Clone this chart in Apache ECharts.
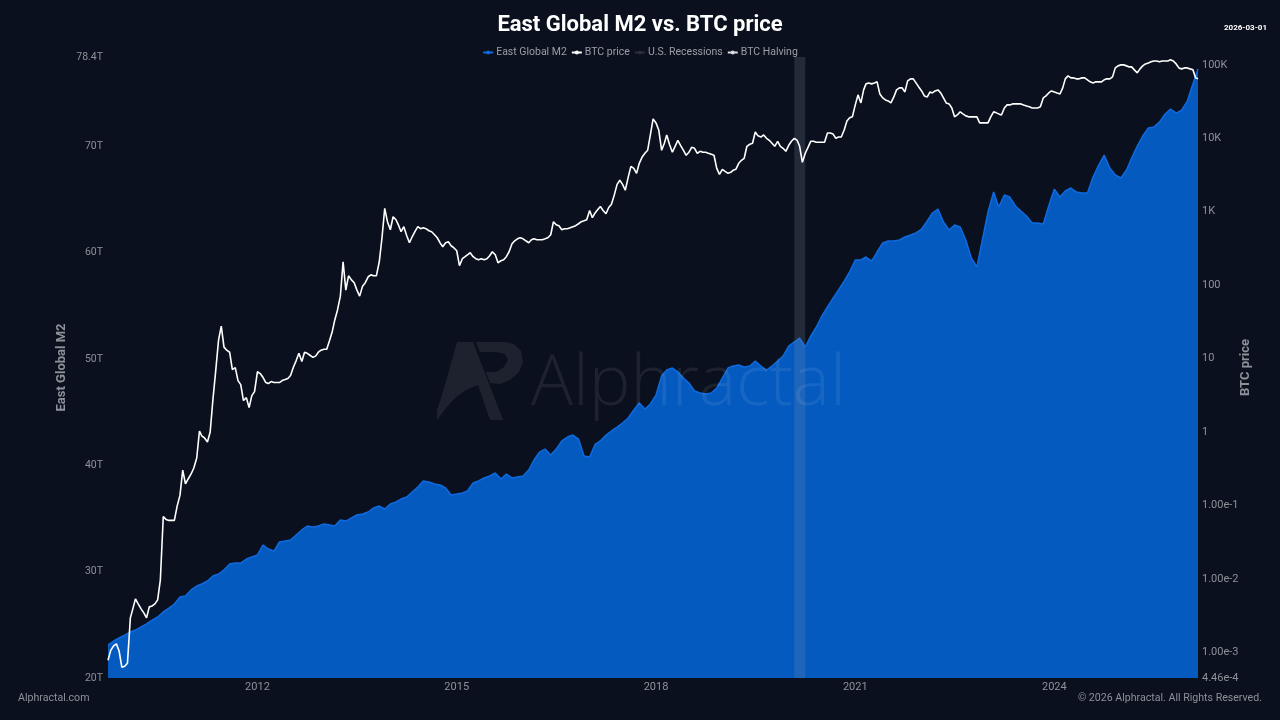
<!DOCTYPE html>
<html>
<head>
<meta charset="utf-8">
<title>East Global M2 vs. BTC price</title>
<script src="https://cdn.jsdelivr.net/npm/echarts@6/dist/echarts.min.js"></script>
<style>
html, body { margin: 0; padding: 0; background: #0a101d; }
#chart { width: 1280px; height: 720px; }
</style>
</head>
<body>
<div id="chart"></div>
<script>
// East Global M2, trillions, first of each month from 2009-10
var m2Values = [
  23.10, 23.48, 23.76,
  24.04, 24.33, 24.51, 24.80, 25.08, 25.45, 25.74, 26.21, 26.58, 26.96, 27.62, 27.71,
  28.28, 28.65, 28.84, 29.12, 29.59, 29.78, 30.16, 30.72, 30.81, 30.81, 31.19, 31.38,
  31.57, 32.51, 32.13, 31.94, 32.79, 32.88, 32.98, 33.45, 33.92, 34.29, 34.20, 34.29,
  34.48, 34.39, 34.29, 34.86, 34.76, 35.05, 35.33, 35.42, 35.61, 35.99, 36.17, 35.89,
  36.36, 36.55, 36.83, 37.02, 37.49, 37.96, 38.53, 38.43, 38.24, 38.15, 37.87, 37.21,
  37.30, 37.40, 37.59, 38.34, 38.53, 38.81, 39.00, 39.28, 38.71, 39.18, 38.81, 38.90,
  39.00, 39.56, 40.50, 41.25, 41.53, 40.97, 41.53, 42.29, 42.66, 42.85, 42.47, 40.88,
  40.78, 42.00, 42.29, 42.85, 43.23, 43.60, 43.98, 44.45, 45.20, 45.86, 45.30, 45.77,
  46.61, 48.40, 48.96, 49.15, 48.78, 48.21, 47.74, 46.99, 46.80, 46.71, 46.80, 47.27,
  48.21, 49.15, 49.34, 49.43, 49.25, 49.34, 49.81, 49.34, 48.96, 49.34, 49.81, 50.28,
  51.22, 51.60, 51.97, 51.13, 52.16, 53.01, 54.04, 54.89, 55.73, 56.49, 57.33, 58.18,
  59.31, 59.31, 59.59, 59.21, 60.06, 60.91, 61.09, 61.09, 61.19, 61.47, 61.66, 61.85,
  62.22, 62.98, 63.73, 64.10, 62.88, 62.13, 62.60, 62.41, 61.19, 59.50, 58.65, 61.19,
  63.82, 65.70, 64.29, 65.42, 65.23, 64.39, 63.92, 63.45, 62.79, 62.79, 62.69, 64.39,
  65.98, 65.23, 65.80, 66.08, 65.70, 65.61, 65.61, 67.11, 68.24, 69.18, 67.96, 67.30,
  67.02, 67.77, 68.90, 70.03, 70.97, 71.72, 71.81, 72.28, 73.04, 73.51, 73.13, 73.41,
  74.26, 75.86, 77.27
];

// BTC price, USD, on the 1st and 16th of each month from 2009-10
var btcValues = [
  0.00078, 0.00106, 0.00122, 0.0013, 0.00104, 0.000625,
  0.000645, 0.00071, 0.00294, 0.00402, 0.00534, 0.00456, 0.0039, 0.00344, 0.00294, 0.00415, 0.00428, 0.00456,
  0.00517, 0.0097, 0.0708, 0.0645, 0.0625, 0.0625, 0.0625, 0.0969, 0.138, 0.303, 0.196, 0.229,
  0.268, 0.323, 0.442, 1.03, 0.882, 0.829, 0.731, 1.0, 2.76, 6.65, 17.8, 27.6,
  14.3, 13, 12.2, 7.08, 7.54, 5.01, 4.42, 2.68, 2.94, 2.15, 3.13, 3.55,
  6.65, 6.25, 5.51, 4.71, 4.56, 4.86, 4.71, 4.71, 4.71, 5.01, 5.17, 5.34,
  5.87, 7.54, 9.39, 11.8, 9.1, 12.2, 11.8, 11.1, 10.4, 10.8, 12.2, 13,
  13.4, 13.4, 17.8, 23.6, 33.3, 45.6, 70.8, 208, 85.5, 134, 118, 108,
  85.5, 70.8, 96.9, 108, 130, 138, 134, 134, 208, 442, 1110, 731,
  568, 855, 778, 645, 534, 625, 471, 378, 456, 534, 625, 587,
  605, 587, 551, 534, 486, 442, 378, 333, 378, 390, 344, 323,
  294, 184, 229, 244, 259, 276, 244, 229, 222, 229, 222, 229,
  251, 285, 259, 202, 215, 222, 244, 285, 366, 402, 428, 442,
  428, 402, 378, 415, 428, 415, 415, 415, 428, 442, 486, 731,
  665, 645, 568, 587, 587, 605, 625, 645, 686, 731, 754, 778,
  1040, 829, 969, 1080, 1180, 1040, 939, 1140, 1260, 1670, 2360, 2680,
  2360, 1960, 2940, 4150, 3900, 3330, 4560, 5510, 6250, 6860, 11100, 18400,
  16200, 13000, 6860, 8550, 11100, 8290, 6450, 7780, 9390, 8030, 6860, 5870,
  6450, 7540, 7310, 6250, 6650, 6450, 6450, 6250, 6050, 5870, 3900, 3230,
  3780, 3550, 3330, 3440, 3660, 3780, 4560, 5010, 5340, 7780, 8290, 8550,
  12200, 10800, 10400, 11100, 10000, 9390, 8550, 7780, 9100, 7780, 7310, 6650,
  8030, 9100, 10000, 9390, 7780, 4710, 6250, 7540, 9100, 9100, 8820, 8820,
  8820, 8820, 11800, 11800, 11400, 10000, 10400, 10400, 13000, 17200, 19000, 19600,
  28500, 39000, 30300, 45600, 55100, 56800, 55100, 56800, 58700, 40200, 35500, 33300,
  32300, 30300, 36600, 45600, 48600, 48600, 42800, 60500, 64500, 64500, 56800, 50100,
  44200, 37800, 36600, 42800, 41500, 44200, 45600, 41500, 35500, 30300, 29400, 25900,
  19600, 20800, 22900, 21500, 20200, 19600, 19600, 19600, 19600, 16200, 16200, 16200,
  16200, 19600, 22900, 22200, 21500, 20800, 25900, 28500, 28500, 29400, 29400, 29400,
  29400, 28500, 27600, 26800, 25900, 25900, 25900, 26800, 35500, 37800, 41500, 44200,
  42800, 41500, 40200, 48600, 64500, 70800, 66500, 66500, 64500, 64500, 66500, 66500,
  62500, 58700, 56800, 58700, 58700, 58700, 62500, 64500, 64500, 68600, 91000, 96900,
  100000, 100000, 96900, 93900, 93900, 85500, 77800, 88200, 96900, 103000, 106000, 110000,
  113000, 113000, 110000, 113000, 113000, 113000, 117000, 113000, 103000, 91000, 88200, 91000,
  91000, 88200, 85500, 66500, 64500
];

var yearTicks = [2012, 2015, 2018, 2021, 2024];
var recessionRange = [Date.UTC(2020, 1, 1), Date.UTC(2020, 3, 1)];
var startDate = Date.UTC(2009, 9, 1);
var endDate = Date.UTC(2026, 2, 1);

var seriesNames = ['East Global M2', 'BTC price', 'U.S. Recessions', 'BTC Halving'];

function monthlyPairs(values) {
  return values.map(function (v, i) {
    return [Date.UTC(2009, 9 + i, 1), v];
  });
}

function halfMonthPairs(values) {
  return values.map(function (v, i) {
    var month = 9 + Math.floor(i / 2);
    return [Date.UTC(2009, month, i % 2 === 0 ? 1 : 16), v];
  });
}

var labelColor = '#8d9199';
var markFill = 'rgba(255,255,255,0.08)';
var chart = echarts.init(document.getElementById('chart'));

chart.setOption({
  backgroundColor: '#0a101d',
  animation: false,
  textStyle: { fontFamily: 'Roboto' },
  title: {
    text: 'East Global M2 vs. BTC price',
    left: 'center',
    top: 9,
    textStyle: { color: '#ffffff', fontSize: 22, fontWeight: 'bold', fontFamily: 'Roboto' }
  },
  legend: {
    data: seriesNames,
    top: 42,
    left: 'center',
    itemWidth: 10,
    itemHeight: 5,
    itemGap: 4,
    textStyle: { color: '#9a9ea6', fontSize: 10.5, fontFamily: 'Roboto', padding: [0, 0, 0, -2] }
  },
  grid: { left: 108, right: 82, top: 57, bottom: 42 },
  // dates are plain UTC timestamps so the year labels can be placed exactly
  xAxis: {
    type: 'value',
    min: startDate,
    max: endDate,
    axisLine: { show: false },
    axisTick: { show: false },
    splitLine: { show: false },
    axisLabel: {
      color: labelColor,
      fontSize: 11,
      margin: 4,
      customValues: yearTicks.map(function (y) { return Date.UTC(y, 0, 1); }),
      formatter: function (v) { return String(new Date(v).getUTCFullYear()); }
    }
  },
  yAxis: [
    {
      type: 'value',
      name: 'East Global M2',
      nameLocation: 'middle',
      nameGap: 40,
      nameMoveOverlap: false,
      nameTextStyle: { color: labelColor, fontSize: 13, fontWeight: 'bold' },
      min: 20,
      max: 78.4,
      interval: 10,
      axisLine: { show: false },
      axisTick: { show: false },
      splitLine: { show: false },
      axisLabel: {
        color: labelColor,
        fontSize: 10.5,
        margin: 5,
        padding: [0, 0, 3, 0],
        formatter: function (v) { return v + 'T'; }
      }
    },
    {
      type: 'log',
      logBase: 10,
      name: 'BTC price',
      nameLocation: 'middle',
      nameGap: 41,
      nameMoveOverlap: false,
      nameTextStyle: { color: labelColor, fontSize: 13, fontWeight: 'bold' },
      min: 4.46e-4,
      max: 128000,
      axisLine: { show: false },
      axisTick: { show: false },
      splitLine: { show: false },
      axisLabel: {
        color: labelColor,
        fontSize: 11,
        margin: 4,
        padding: [4, 0, 0, 0],
        showMaxLabel: false,
        formatter: function (v) {
          if (v >= 1000) return Math.round(v / 1000) + 'K';
          if (v >= 1) return String(Math.round(v));
          return v.toExponential(2);
        }
      }
    }
  ],
  series: [
    {
      name: seriesNames[0],
      type: 'line',
      yAxisIndex: 0,
      data: monthlyPairs(m2Values),
      symbol: 'circle',
      showSymbol: false,
      z: 2,
      itemStyle: { color: '#0f6ae0' },
      lineStyle: { color: '#0f6ae0', width: 1.5 },
      areaStyle: { color: '#055abf', opacity: 1, origin: 'start' }
    },
    {
      name: seriesNames[1],
      type: 'line',
      yAxisIndex: 1,
      data: halfMonthPairs(btcValues),
      symbol: 'circle',
      showSymbol: false,
      z: 4,
      itemStyle: { color: '#ffffff' },
      lineStyle: { color: '#ffffff', width: 1.6 }
    },
    {
      name: seriesNames[2],
      type: 'line',
      yAxisIndex: 0,
      data: [],
      symbol: 'circle',
      showSymbol: false,
      z: 3,
      itemStyle: { color: '#2b303b' },
      lineStyle: { color: '#2b303b' },
      markArea: {
        silent: true,
        z: 3,
        itemStyle: { color: 'rgba(130,140,170,0.21)' },
        data: [[{ xAxis: recessionRange[0] }, { xAxis: recessionRange[1] }]]
      }
    },
    {
      name: seriesNames[3],
      type: 'line',
      yAxisIndex: 1,
      data: [],
      symbol: 'circle',
      showSymbol: false,
      itemStyle: { color: '#d9dce2' },
      lineStyle: { color: '#d9dce2' }
    }
  ],
  graphic: [
    // watermark logo
    {
      type: 'polygon',
      z: 100,
      silent: true,
      shape: { points: [[457, 342], [473, 342], [503, 420], [490, 420], [478, 385], [466, 390], [455, 398], [446, 408], [437, 420], [437, 410], [441, 398], [445, 385]] },
      style: { fill: markFill }
    },
    {
      type: 'polygon',
      z: 100,
      silent: true,
      shape: { points: [[476, 342], [505, 342], [514, 344], [521, 351], [523, 362], [519, 372], [510, 380], [500, 384], [490, 383], [486, 372], [496, 372], [504, 367], [508, 360], [505, 354], [496, 352], [480, 352]] },
      style: { fill: markFill }
    },
    {
      type: 'text',
      z: 100,
      silent: true,
      left: 531,
      top: 350,
      style: { text: 'Alphractal', fill: markFill, font: '300 70px "Open Sans"' }
    },
    {
      type: 'text',
      right: 13,
      top: 24,
      style: { text: '2026-03-01', fill: '#ffffff', font: 'bold 8px Roboto' }
    },
    {
      type: 'text',
      left: 18,
      top: 693,
      style: { text: 'Alphractal.com', fill: labelColor, font: '10.6px Roboto' }
    },
    {
      type: 'text',
      right: 18,
      top: 693,
      style: { text: '© 2026 Alphractal. All Rights Reserved.', fill: labelColor, font: '10.6px Roboto' }
    }
  ]
});
</script>
</body>
</html>
